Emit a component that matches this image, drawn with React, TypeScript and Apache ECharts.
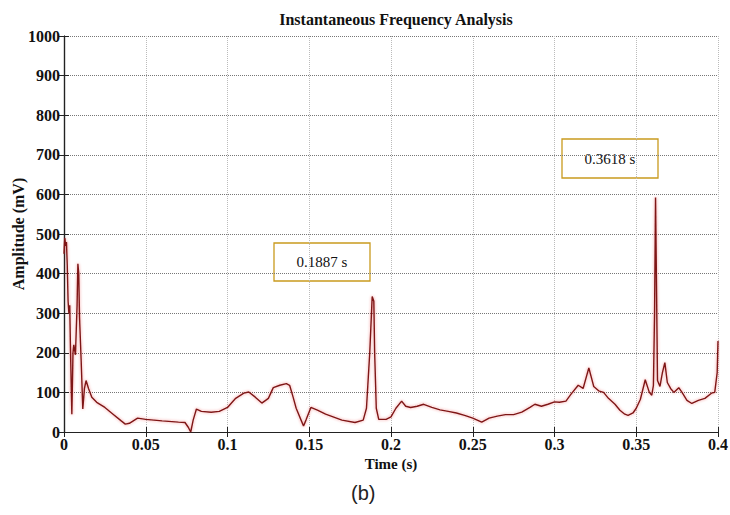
import React, { useEffect, useRef } from "react";
import * as echarts from "echarts";

const timeS: number[] = [
  0, 0.0005, 0.001, 0.0015, 0.002, 0.0025, 0.003, 0.0035, 0.004, 0.0048, 0.0055, 0.006, 0.007, 0.008, 0.0085, 0.009, 0.0095,
  0.0105, 0.0115, 0.0125, 0.0135, 0.015, 0.017, 0.02, 0.025, 0.03, 0.035, 0.0375, 0.04, 0.045, 0.05, 0.06, 0.07, 0.074, 0.076,
  0.0775, 0.079, 0.081, 0.084, 0.09, 0.095, 0.1, 0.105, 0.11, 0.113, 0.117, 0.121, 0.125, 0.128, 0.132, 0.136, 0.138, 0.14,
  0.142, 0.145, 0.1465, 0.148, 0.151, 0.155, 0.16, 0.17, 0.178, 0.183, 0.185, 0.187, 0.1885, 0.1895, 0.19, 0.191, 0.1925,
  0.197, 0.2, 0.203, 0.2065, 0.209, 0.212, 0.216, 0.22, 0.225, 0.23, 0.235, 0.24, 0.245, 0.25, 0.2555, 0.26, 0.265, 0.27,
  0.275, 0.28, 0.285, 0.288, 0.292, 0.296, 0.3, 0.303, 0.307, 0.31, 0.3145, 0.3175, 0.321, 0.324, 0.327, 0.33, 0.333, 0.337,
  0.34, 0.343, 0.345, 0.348, 0.35, 0.3525, 0.3555, 0.358, 0.3595, 0.3605, 0.3612, 0.3618, 0.3623, 0.363, 0.3645, 0.366,
  0.3675, 0.369, 0.371, 0.373, 0.376, 0.378, 0.381, 0.384, 0.388, 0.392, 0.396, 0.398, 0.3995, 0.4,
];

const amplitudeMV: number[] = [
  450, 490, 470, 480, 420, 330, 300, 320, 200, 45, 200, 220, 195, 320, 425, 400, 290,
  180, 58, 110, 130, 110, 88, 75, 62, 45, 28, 20, 22, 35, 32, 28, 25, 24, 12,
  0, 30, 58, 52, 50, 52, 62, 85, 98, 101, 88, 73, 85, 112, 118, 122, 118, 90,
  60, 30, 15, 30, 62, 55, 45, 30, 24, 30, 60, 200, 342, 330, 200, 60, 32,
  32, 38, 60, 78, 65, 62, 65, 70, 62, 56, 52, 48, 42, 35, 25, 35, 40, 44,
  44, 50, 62, 70, 65, 70, 76, 75, 78, 95, 118, 110, 162, 115, 104, 100, 85, 70,
  55, 45, 42, 48, 60, 82, 132, 100, 93, 118, 300, 592, 400, 130, 115, 150,
  175, 125, 110, 100, 112, 100, 80, 72, 80, 85, 98, 100, 150, 230,
];

const annotations: string[] = ["0.1887 s", "0.3618 s"];

export default function App() {
  const ref = useRef<HTMLDivElement>(null);
  useEffect(() => {
    if (!ref.current) return;
    const chart = echarts.init(ref.current, null, { renderer: "svg" });
    const serif = "Liberation Serif";
    const data = timeS.map((t, i) => [t, amplitudeMV[i]]);
    const boxes = [
      { x: 274, y: 243, w: 96, h: 38, text: annotations[0] },
      { x: 562, y: 139, w: 96, h: 39, text: annotations[1] },
    ];
    chart.setOption({
      animation: false,
      backgroundColor: "#ffffff",
      textStyle: { fontFamily: serif },
      title: {
        text: "Instantaneous Frequency Analysis",
        left: 391,
        textAlign: "center",
        top: 6,
        textStyle: { fontFamily: serif, fontWeight: "bold", fontSize: 16, color: "#111" },
      },
      grid: { left: 64, right: 12, top: 36, bottom: 83, containLabel: false, outerBoundsMode: "none" },
      xAxis: [
        {
          type: "value",
          min: 0,
          max: 0.4,
          interval: 0.05,
          name: "Time (s)",
          nameLocation: "middle",
          nameGap: 23,
          nameTextStyle: { fontFamily: serif, fontWeight: "bold", fontSize: 15, color: "#111" },
          axisLine: { show: true, lineStyle: { color: "#222", width: 1.2 } },
          axisTick: { show: true, inside: true, length: 5, lineStyle: { color: "#222" } },
          axisLabel: {
            fontFamily: serif,
            fontWeight: "bold",
            fontSize: 16,
            color: "#111",
            margin: 4,
            formatter: (v: number) => String(Math.round(v * 100) / 100),
          },
          splitLine: { show: true, lineStyle: { color: "#bbb", type: "dotted", width: 1 } },
        },
        {
          type: "value",
          position: "top",
          min: 0,
          max: 0.4,
          interval: 0.05,
          axisLine: { show: true, lineStyle: { color: "#222", width: 1.2 } },
          axisTick: { show: true, inside: true, length: 5, lineStyle: { color: "#222" } },
          axisLabel: { show: false },
          splitLine: { show: false },
        },
      ],
      yAxis: [
        {
          type: "value",
          min: 0,
          max: 1000,
          interval: 100,
          axisLine: { show: true, lineStyle: { color: "#222", width: 1.2 } },
          axisTick: { show: true, inside: true, length: 5, lineStyle: { color: "#222" } },
          axisLabel: {
            fontFamily: serif,
            fontWeight: "bold",
            fontSize: 16,
            color: "#111",
            margin: 4,
            formatter: (v: number) => String(v),
          },
          splitLine: { show: true, lineStyle: { color: "#777", type: "dotted", width: 1 } },
        },
        {
          type: "value",
          position: "right",
          min: 0,
          max: 1000,
          interval: 100,
          axisLine: { show: true, lineStyle: { color: "#222", width: 1.2 } },
          axisTick: { show: true, inside: true, length: 5, lineStyle: { color: "#222" } },
          axisLabel: { show: false },
          splitLine: { show: false },
        },
      ],
      series: [
        {
          type: "line",
          xAxisIndex: 0,
          yAxisIndex: 0,
          data,
          showSymbol: false,
          symbol: "none",
          lineStyle: {
            color: "#7e1818",
            width: 1.4,
            shadowColor: "rgba(230,40,40,0.45)",
            shadowBlur: 3,
          },
        },
      ],
      graphic: [
        {
          type: "text",
          x: 18,
          y: 234,
          rotation: Math.PI / 2,
          style: {
            text: "Amplitude (mV)",
            fontFamily: serif,
            fontWeight: "bold",
            fontSize: 16,
            fill: "#111",
            align: "center",
            verticalAlign: "middle",
          },
        },
        ...boxes.map((b) => ({
          type: "group",
          children: [
            {
              type: "rect",
              shape: { x: b.x, y: b.y, width: b.w, height: b.h },
              style: { fill: "#fff", stroke: "#c99a1e", lineWidth: 1.3 },
            },
            {
              type: "text",
              x: b.x + b.w / 2,
              y: b.y + b.h / 2,
              style: {
                text: b.text,
                fontFamily: serif,
                fontSize: 15,
                fill: "#111",
                align: "center",
                verticalAlign: "middle",
              },
            },
          ],
        })),
        {
          type: "text",
          left: 351,
          top: 483,
          style: {
            text: "(b)",
            fontFamily: "Liberation Sans",
            fontSize: 20,
            fill: "#222",
          },
        },
      ],
    });
    return () => chart.dispose();
  }, []);
  return <div ref={ref} style={{ width: 730, height: 515, position: "absolute", left: 0, top: 0 }} />;
}
